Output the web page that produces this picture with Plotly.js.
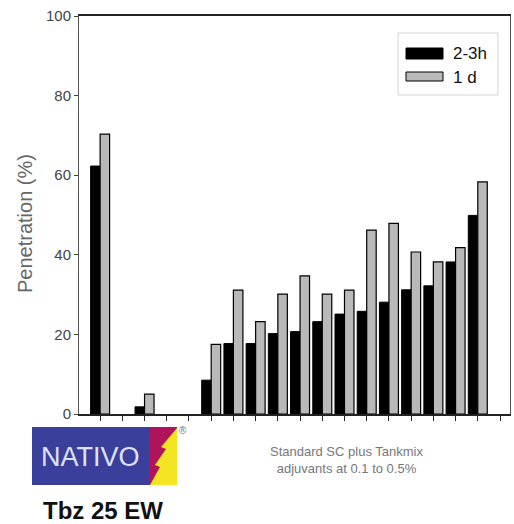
<!DOCTYPE html>
<html>
<head>
<meta charset="utf-8">
<script src="https://cdn.plot.ly/plotly-3.0.1.min.js"></script>
<style>html,body{margin:0;padding:0;background:#fff;}#chart{width:514px;height:524px;}</style>
</head>
<body>
<div id="chart"></div>
<script>
// Data
const categories = ["T1","T2","T3","T4","T5","T6","T7","T8","T9","T10","T11","T12","T13","T14","T15","T16","T17","T18","T19"];
const series1Name = "2-3h";
const series2Name = "1 d";
const values2to3h = [62.3, null, 1.8, null, null, 8.5, 17.7, 17.7, 20.2, 20.7, 23.2, 25.1, 25.8, 28.1, 31.2, 32.2, 38.2, 49.9, null];
const values1d    = [70.3, null, 5.0, null, null, 17.5, 31.1, 23.2, 30.1, 34.7, 30.1, 31.1, 46.2, 47.9, 40.7, 38.2, 41.8, 58.3, null];
const yTicks = [0, 20, 40, 60, 80, 100];
const yTitle = "Penetration (%)";
const xTitle = "Standard SC plus Tankmix<br>adjuvants at 0.1 to 0.5%";
const logoText = "NATIVO";
const productText = "Tbz 25 EW";

const color1 = "#000000";
const color2 = "#b9b9b9";

// pixel -> paper helpers (layout only)
const L = 79, R = 510, T = 16, B = 414;
const px = x => (x - L) / (R - L);
const py = y => (B - y) / (B - T);

const traces = [
  {type: "bar", name: series1Name, x: categories, y: values2to3h, showlegend: false,
   marker: {color: color1, line: {color: "#000000", width: 1}}},
  {type: "bar", name: series2Name, x: categories, y: values1d, showlegend: false,
   marker: {color: color2, line: {color: "#000000", width: 1.2}}}
];

const lightning = [[177,428],[177,485],[150,485],[160,467],[155,465],[166,449],[161,447],[177,428]];
const path = "M " + lightning.map(p => px(p[0]).toFixed(4) + "," + py(p[1]).toFixed(4)).join(" L ") + " Z";

const pr = (x0, x1, y0, y1, fill, line) => ({type: "rect", xref: "paper", yref: "paper",
  x0: px(x0), x1: px(x1), y0: py(y1), y1: py(y0), fillcolor: fill, line: line || {width: 0}});

const layout = {
  width: 514, height: 524,
  margin: {l: L, r: 514 - R, t: T, b: 524 - B},
  paper_bgcolor: "#ffffff", plot_bgcolor: "#ffffff",
  barmode: "group", bargap: 0.145, bargroupgap: 0,
  font: {family: "Liberation Sans, Arial, sans-serif", color: "#333"},
  showlegend: false,
  xaxis: {type: "category", range: [-0.95, 18.45], showticklabels: false,
          ticks: "outside", ticklen: 5, tickcolor: "#222", tickwidth: 1,
          showline: true, linecolor: "#222", linewidth: 1.6, mirror: true,
          showgrid: false, zeroline: false, fixedrange: true},
  yaxis: {range: [0, 100], tickvals: yTicks, ticktext: yTicks.map(String),
          ticks: "outside", ticklen: 4, tickcolor: "#444",
          showline: true, linecolor: "#555", linewidth: 1, mirror: true,
          showgrid: false, zeroline: false,
          tickfont: {family: "Liberation Sans, Arial", size: 15, color: "#444"}},
  shapes: [
    // legend box and swatches
    pr(398, 498, 33, 95, "#ffffff", {color: "#d4d4d4", width: 1}),
    pr(406, 443, 48, 59, color1, {color: "#000000", width: 1}),
    pr(406, 443, 72, 81, color2, {color: "#000000", width: 1}),
    // logo
    pr(32, 149, 427, 485, "#3b3f9c"),
    pr(149, 177, 427, 485, "#b0135c"),
    {type: "path", xref: "paper", yref: "paper", path: path, fillcolor: "#f3e424", line: {width: 0}}
  ],
  annotations: [
    {text: series1Name, xref: "paper", yref: "paper", x: px(451), y: py(54),
     showarrow: false, xanchor: "left", yanchor: "middle",
     font: {family: "Liberation Sans, Arial", size: 17, color: "#111"}},
    {text: series2Name, xref: "paper", yref: "paper", x: px(451), y: py(77),
     showarrow: false, xanchor: "left", yanchor: "middle",
     font: {family: "Liberation Sans, Arial", size: 17, color: "#111"}},
    {text: yTitle, xref: "paper", yref: "paper", x: px(25), y: py(224), textangle: -90,
     showarrow: false, xanchor: "center", yanchor: "middle",
     font: {family: "Liberation Sans, Arial", size: 20, color: "#666"}},
    {text: xTitle, xref: "paper", yref: "paper", x: px(346), y: py(460),
     showarrow: false, xanchor: "center", yanchor: "middle", align: "center",
     font: {family: "Liberation Sans, Arial", size: 13, color: "#777"}},
    {text: logoText, xref: "paper", yref: "paper", x: px(90), y: py(457),
     showarrow: false, xanchor: "center", yanchor: "middle",
     font: {family: "Liberation Sans, Arial", size: 27, color: "#dfe2ff"}},
    {text: "®", xref: "paper", yref: "paper", x: px(183), y: py(430),
     showarrow: false, xanchor: "center", yanchor: "middle",
     font: {family: "Liberation Sans, Arial", size: 10, color: "#777"}},
    {text: productText, xref: "paper", yref: "paper", x: px(103), y: py(510),
     showarrow: false, xanchor: "center", yanchor: "middle",
     font: {family: "Liberation Sans, Arial", size: 24, color: "#111", weight: "bold"}}
  ]
};

Plotly.newPlot("chart", traces, layout, {displayModeBar: false, staticPlot: true});
</script>
</body>
</html>
